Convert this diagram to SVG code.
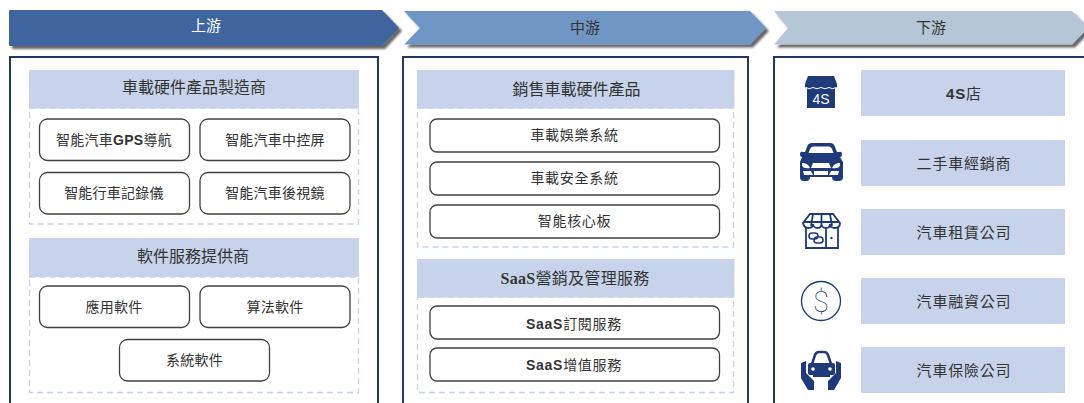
<svg xmlns="http://www.w3.org/2000/svg" width="1084" height="403" viewBox="0 0 1084 403">
<style>
text{font-family:"Liberation Sans","Noto Sans CJK TC",sans-serif;text-anchor:middle;fill:#333}
.t{font-size:15px}
.h{font-size:16px}
.b{font-size:14px;letter-spacing:.25px}
.m{font-size:14px;letter-spacing:.7px}
.r{font-size:15px;letter-spacing:.8px}
.l{font-weight:700}
.s{font-family:"Liberation Serif","Noto Sans CJK TC",serif;font-weight:700}
.panel{fill:#fff;stroke:#1f3864;stroke-width:2}
.head{fill:#c7d3ea}
.dash{fill:none;stroke:#c7d3ea;stroke-width:1.3;stroke-dasharray:6 4}
.box{fill:#fff;stroke:#404040;stroke-width:1.3}
.ic{fill:#1f3a78}
.ln{fill:none;stroke:#1f3a78;stroke-width:1.800}
</style>
<defs>
<filter id="sh" x="-5%" y="-20%" width="110%" height="160%"><feDropShadow dx="3" dy="3" stdDeviation="1.3" flood-color="#000" flood-opacity=".6"/></filter>
</defs>
<rect width="1084" height="403" fill="#fff"/>

<g id="stage-up">
<path d="M9 11Q9 10 10 10H382L399 28L382 46H10Q9 46 9 45Z" fill="#41659e" filter="url(#sh)"/>
<text class="t" x="206" y="31" style="fill:#fff">上游</text>
</g>
<g id="stage-mid">
<path d="M404 11H750L766 28L750 44.500H404L420 28Z" fill="#6f96c6" filter="url(#sh)"/>
<text class="t" x="585" y="32.500">中游</text>
</g>
<g id="stage-down">
<path d="M774 11H1072L1088 28L1072 44.500H774L788 28Z" fill="#b5c7d6" filter="url(#sh)"/>
<text class="t" x="931" y="32.500">下游</text>
</g>

<path id="panel-up" class="panel" d="M10 410V57H378V410"/>
<path id="panel-mid" class="panel" d="M403 410V57H748V410"/>
<path id="panel-down" class="panel" d="M774 410V57H1090"/>

<g id="group-hardware-maker">
<rect class="dash" x="29.500" y="108" width="329" height="116"/>
<rect class="head" x="29" y="70" width="330" height="38.500"/>
<text class="h" x="194" y="92.500">車載硬件產品製造商</text>
</g>
<g id="n-gps"><rect class="box" x="39.500" y="119" width="150" height="41.500" rx="8"/><text class="b" x="114" y="144.500">智能汽車<tspan class="l">GPS</tspan>導航</text></g>
<g id="n-console"><rect class="box" x="200" y="119" width="150" height="41.500" rx="8"/><text class="b" x="275" y="144.500">智能汽車中控屏</text></g>
<g id="n-recorder"><rect class="box" x="39.500" y="172.500" width="150" height="41.500" rx="8"/><text class="b" x="114" y="198">智能行車記錄儀</text></g>
<g id="n-mirror"><rect class="box" x="200" y="172.500" width="150" height="41.500" rx="8"/><text class="b" x="275" y="198">智能汽車後視鏡</text></g>

<g id="group-software">
<rect class="dash" x="29.500" y="277" width="329" height="115.500"/>
<rect class="head" x="29" y="238" width="330" height="39"/>
<text class="h" x="193" y="262">軟件服務提供商</text>
</g>
<g id="n-app"><rect class="box" x="39.500" y="286" width="150" height="41.500" rx="8"/><text class="b" x="114" y="311.500">應用軟件</text></g>
<g id="n-algo"><rect class="box" x="200" y="286" width="150" height="41.500" rx="8"/><text class="b" x="275" y="311.500">算法軟件</text></g>
<g id="n-system"><rect class="box" x="119.500" y="339.500" width="150" height="41.500" rx="8"/><text class="b" x="194.500" y="365">系統軟件</text></g>

<g id="group-sales">
<rect class="dash" x="417.500" y="108" width="316" height="139"/>
<rect class="head" x="417" y="70" width="317.500" height="38.500"/>
<text class="h" x="576.500" y="94.500">銷售車載硬件產品</text>
</g>
<g id="n-ent"><rect class="box" x="430" y="119" width="289.500" height="33" rx="7"/><text class="m" x="574.500" y="140">車載娛樂系統</text></g>
<g id="n-safe"><rect class="box" x="430" y="162" width="289.500" height="33" rx="7"/><text class="m" x="574.500" y="183">車載安全系統</text></g>
<g id="n-core"><rect class="box" x="430" y="205" width="289.500" height="33" rx="7"/><text class="m" x="574.500" y="226">智能核心板</text></g>

<g id="group-saas">
<rect class="dash" x="417.500" y="297" width="316" height="95.500"/>
<rect class="head" x="417" y="259" width="317.500" height="38.500"/>
<text class="h" x="575" y="284" style="letter-spacing:.3px"><tspan class="s">SaaS</tspan>營銷及管理服務</text>
</g>
<g id="n-sub"><rect class="box" x="430" y="306" width="289.500" height="33" rx="7"/><text class="m" x="574" y="328.500"><tspan class="l">SaaS</tspan>訂閱服務</text></g>
<g id="n-add"><rect class="box" x="430" y="348" width="289.500" height="33" rx="7"/><text class="m" x="574" y="370"><tspan class="l">SaaS</tspan>增值服務</text></g>

<g id="n-4s">
<rect class="ic" x="807" y="86" width="28" height="22"/>
<path class="ic" d="M808 76H834L837 84V87Q833 91 829 88Q825 91 821 88Q817 91 813 88Q809 91 805 87V84Z"/>
<path d="M806 87.500Q809 90 813 87.500Q817 90 821 87.500Q825 90 829 87.500Q833 90 836 87.500" fill="none" stroke="#fff" stroke-width="1"/>
<text x="821" y="104" style="fill:#fff;font-size:14px">4S</text>
<rect class="head" x="861" y="70" width="204" height="46"/>
<text class="r" x="964" y="99"><tspan class="l">4S</tspan>店</text>
</g>

<g id="n-used">
<path class="ic" d="M812 143H830Q834 143 835 147L837 152H839Q842 151 842 154T840 157L843 162V177Q843 181 839 181H836Q832 181 832 177H810Q810 181 806 181H804Q800 181 800 177V162L802 157Q800 157 800 154T803 152H805L807 147Q808 143 812 143Z"/>
<path d="M813 146.500H829Q831 146.500 832 149L833.500 153H808.500L810 149Q811 146.500 813 146.500Z" fill="#fff"/>
<path d="M802 163Q808 163 810 168Q804 169 802 166ZM840 163Q834 163 832 168Q838 169 840 166ZM813 163H829L831 168H811ZM803 171H811L813 175H804ZM839 171H831L829 175H838ZM814 171H828V175H814Z" fill="#fff"/>
<rect class="head" x="861" y="140" width="204" height="46"/>
<text class="r" x="964" y="168.500">二手車經銷商</text>
</g>

<g id="n-rental">
<path class="ln" d="M806 228V248H838V228M826 248V229"/>
<path class="ln" d="M810 214H833L840 223Q840 228 835 228T830 224Q830 228 826 228T821.500 224Q821.500 228 817.500 228T813 224Q813 228 808.500 228T803 223ZM813 214L811 226M821.500 214V226M830 214L832 226M804 222H839"/>
<circle class="ic" cx="831.500" cy="238" r="1.200"/>
<rect x="809" y="233" width="9" height="6" rx="3" fill="none" stroke="#1f3a78" stroke-width="1.600"/>
<rect x="814" y="237" width="9" height="6" rx="3" fill="none" stroke="#1f3a78" stroke-width="1.600"/>
<rect class="head" x="861" y="209" width="204" height="46"/>
<text class="r" x="964" y="237.500">汽車租賃公司</text>
</g>

<g id="n-finance">
<circle cx="821" cy="301" r="19.500" fill="none" stroke="#1f3a78" stroke-width="1.300"/>
<text x="821" y="311.500" style="font-family:Roboto,sans-serif;fill:#1f3a78;font-size:29px;font-weight:100">$</text>
<rect class="head" x="861" y="278" width="204" height="46"/>
<text class="r" x="964" y="306.500">汽車融資公司</text>
</g>

<g id="n-insurance">
<path class="ln" style="stroke-width:2.500" d="M812 364L815 355Q816 352 819 352H824Q827 352 828 355L831 364"/>
<path class="ic" d="M810 363H833Q835 363 835 365V373Q835 375 833 375H830V377H813V375H810Q808 375 808 373V365Q808 363 810 363Z"/>
<circle cx="813" cy="369" r="1.800" fill="#fff"/><circle cx="830" cy="369" r="1.800" fill="#fff"/>
<path class="ic" d="M801 363L806 361V373L814 381V390H808L801 378ZM841 363L836 361V373L828 381V390H834L841 378Z"/>
<rect class="head" x="861" y="347" width="204" height="46"/>
<text class="r" x="964" y="375.500">汽車保險公司</text>
</g>
</svg>
